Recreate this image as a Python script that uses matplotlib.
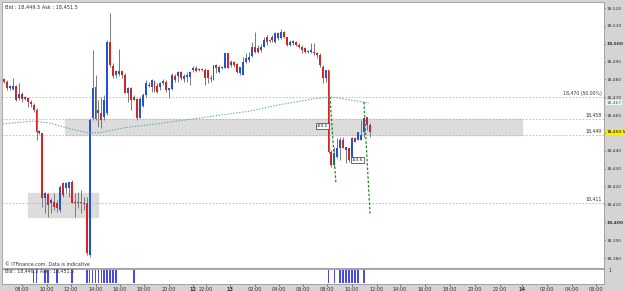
import matplotlib.pyplot as plt
from matplotlib.patches import Rectangle
import matplotlib.transforms as mtransforms

# 15-minute candles (bar index is the x position)
opens = [18480, 18478.5, 18475, 18474.5, 18476.5, 18469.5, 18472, 18469, 18469.5, 18467.5,
         18465.5, 18463, 18450, 18450, 18413.5, 18416, 18411, 18411.5, 18411, 18407,
         18422, 18419, 18419, 18422.5, 18411.5, 18411, 18411.5, 18410, 18411, 18381.5,
         18458.5, 18476, 18461, 18461, 18459, 18461, 18501, 18487.5, 18482.5, 18483,
         18484.5, 18482.5, 18472.5, 18475, 18470, 18469, 18458.5, 18465, 18471.5, 18476.5,
         18476, 18479, 18476.5, 18476, 18478, 18478.5, 18474, 18474.5, 18482, 18482,
         18484, 18480, 18481.5, 18481.5, 18485.5, 18486.5, 18485.5, 18486, 18485.5, 18485.5,
         18480, 18479.5, 18488, 18484, 18486.5, 18486.5, 18495, 18488, 18490, 18488.5,
         18483.5, 18482.5, 18490, 18491, 18493, 18498, 18497.5, 18496.5, 18498, 18504,
         18501.5, 18504, 18501, 18503, 18503, 18506.5, 18504, 18499.5, 18500.5, 18501,
         18499.5, 18498, 18497.5, 18495.5, 18495.5, 18495.5, 18495, 18493.5, 18487, 18481,
         18485.5, 18439.5, 18432, 18436.5, 18441.5, 18446, 18440.5, 18441.5, 18436.5, 18447,
         18446, 18446, 18450.5, 18459, 18454.5]
highs = [18481, 18479.5, 18477, 18481, 18477, 18478, 18473, 18470.5, 18470, 18468.5,
         18467, 18464, 18451.5, 18450, 18417, 18416.5, 18413.5, 18416.5, 18412.5, 18421,
         18422.5, 18422.5, 18422.5, 18423.5, 18416.5, 18417, 18418, 18414, 18414, 18458.5,
         18496.5, 18482.5, 18468.5, 18470, 18471.5, 18502, 18517, 18489, 18485.5, 18497,
         18485.5, 18483.5, 18476, 18476, 18471.5, 18469.5, 18470, 18472.5, 18479.5, 18478.5,
         18480, 18479.5, 18478, 18478.5, 18480, 18479.5, 18475, 18483.5, 18483, 18484.5,
         18484.5, 18483, 18484, 18484.5, 18487.5, 18487.5, 18486.5, 18486.5, 18486.5, 18485.5,
         18482.5, 18488, 18488.5, 18488, 18487.5, 18495, 18495, 18491, 18490.5, 18489,
         18487, 18492.5, 18495, 18495.5, 18501, 18506.5, 18499.5, 18500, 18504, 18505,
         18502.5, 18505, 18506.5, 18506.5, 18508, 18507, 18504, 18502, 18502, 18501.5,
         18500.5, 18499.5, 18498, 18496.5, 18500.5, 18500.5, 18495.5, 18495, 18488, 18485.5,
         18485.5, 18440.5, 18442, 18447, 18448, 18448, 18442, 18441.5, 18448, 18448,
         18450.5, 18457.5, 18458.5, 18459, 18455.5]
lows = [18478, 18474, 18474, 18474, 18468, 18468.5, 18467.5, 18468.5, 18464.5, 18464.5,
        18462, 18446, 18449.5, 18408.5, 18405, 18403, 18405, 18407, 18405.5, 18405.5,
        18414, 18416.5, 18414, 18411, 18403, 18408, 18405, 18407, 18381.5, 18380.5,
        18457.5, 18457.5, 18453.5, 18453, 18457.5, 18460, 18487, 18481, 18481, 18482,
        18481, 18472.5, 18467.5, 18463, 18468.5, 18457.5, 18458.5, 18464.5, 18470, 18476,
        18473, 18473, 18472.5, 18474, 18477, 18473, 18469.5, 18474, 18478.5, 18478.5,
        18479.5, 18478.5, 18478.5, 18477, 18484, 18484, 18484.5, 18484.5, 18477, 18478,
        18478.5, 18479.5, 18483.5, 18483.5, 18486, 18486.5, 18486.5, 18487, 18487, 18483.5,
        18482.5, 18482.5, 18489, 18490, 18492.5, 18495, 18495, 18495.5, 18498, 18499.5,
        18501, 18501, 18500.5, 18502, 18502.5, 18503, 18498.5, 18498.5, 18499.5, 18498.5,
        18497.5, 18495, 18495, 18495, 18495, 18493.5, 18492, 18487, 18478, 18478.5,
        18439, 18431, 18431, 18436, 18435, 18441.5, 18433, 18434, 18436, 18445,
        18446, 18446, 18448, 18451.5, 18448]
closes = [18478.5, 18475, 18476.5, 18476.5, 18468.5, 18472, 18469, 18470, 18467.5, 18466,
          18463, 18450.5, 18451, 18413.5, 18416.5, 18409.5, 18412.5, 18408.5, 18408, 18420,
          18415.5, 18422, 18422.5, 18411, 18411, 18411.5, 18411, 18411, 18383, 18457.5,
          18475, 18458, 18463, 18457.5, 18468.5, 18501, 18488, 18482, 18484.5, 18484.5,
          18482.5, 18472.5, 18475, 18468.5, 18468.5, 18458.5, 18469, 18471.5, 18478, 18477,
          18479.5, 18474, 18473, 18478, 18479, 18474, 18475, 18482.5, 18479.5, 18484,
          18481, 18482, 18482.5, 18484, 18486.5, 18484.5, 18486, 18485.5, 18481, 18481,
          18481, 18488, 18486.5, 18487, 18487, 18495, 18486.5, 18490, 18488, 18484,
          18487, 18490, 18492, 18492.5, 18498, 18495.5, 18495.5, 18498, 18502, 18501,
          18502, 18502, 18506, 18506, 18506.5, 18504, 18499.5, 18501, 18501.5, 18499.5,
          18498, 18496.5, 18495.5, 18496, 18496.5, 18495, 18493.5, 18488, 18481, 18485.5,
          18439.5, 18432, 18439, 18441.5, 18446, 18441.5, 18442, 18435, 18447, 18445,
          18450.5, 18449, 18458.5, 18454.5, 18450.5]

# activity marks in the lower panel (bar index)
vol_idx = [10, 11, 14, 15, 18, 23, 28, 29, 30, 31, 32, 33, 34, 35, 36, 37, 38, 44,
           110, 112, 114, 115, 116, 117, 118, 119, 120, 122]

# moving average style curve (bar index, price)
ma_x = [-1.4, 9.8, 15.6, 21.4, 28.5, 32.5, 41, 53.9, 68.8, 83.4, 92.9, 104.4, 110.5, 115.6, 123.7]
ma_y = [18455, 18456.7, 18455.6, 18452.8, 18450, 18450.2, 18453, 18455.6, 18459, 18462.3,
        18465.7, 18469, 18470.3, 18469, 18466.8]

# horizontal levels and labels
levels = [18470, 18458, 18449, 18411]
level_labels = ["18,470 (50.00%)", "18,458", "18,449", "18,411"]

yticks = list(range(18380, 18521, 10))
xtick_pos = [6.1, 14.6, 22.7, 31.2, 39.3, 47.5, 55.9, 64.1, 68.5, 76.6, 85.1, 93.2, 101.4,
             109.5, 118, 126.4, 134.2, 142.7, 151.2, 159.7, 168.1, 175.6, 184.1, 192.5, 200.7]
xtick_labels = ["08:00", "10:00", "12:00", "14:00", "16:00", "18:00", "20:00", "12", "22:00",
                "13", "02:00", "04:00", "06:00", "08:00", "10:00", "12:00", "14:00", "16:00",
                "18:00", "20:00", "22:00", "14", "02:00", "04:00", "06:00"]

UP = "#2352d6"
DOWN = "#d42424"
WICK = "#7a7a7a"

fig = plt.figure(figsize=(6.25, 2.91), dpi=100, facecolor="#d4d4d4")
ax = fig.add_axes([2 / 625, 23 / 291, 602 / 625, 266 / 291])
axv = fig.add_axes([2 / 625, 7.5 / 291, 602 / 625, 15 / 291], sharex=ax)

xmin, xmax = -0.7, 203.4
ax.set_xlim(xmin, xmax)
ax.set_ylim(18374.4, 18523.4)

# zones
ax.add_patch(Rectangle((20.7, 18449), 175.6 - 20.7, 18458 - 18449, color="#dcdcdc", zorder=0))
ax.add_patch(Rectangle((8.1, 18403), 31.9 - 8.1, 18416.5 - 18403, color="#dcdcdc", zorder=0))

for lv, lab in zip(levels, level_labels):
    ax.axhline(lv, color="#b5b5b5", lw=0.6, ls=(0, (2, 2)), zorder=1)
    ax.text(xmax - 0.8, lv + 0.6, lab, fontsize=3.3, ha="right", va="bottom", color="#333333")

# candles
for i, (o, h, l, c) in enumerate(zip(opens, highs, lows, closes)):
    col = UP if c >= o else DOWN
    ax.vlines(i, l, h, color=WICK, lw=0.7, zorder=2)
    ax.add_patch(Rectangle((i - 0.33, min(o, c)), 0.66, max(abs(c - o), 0.4),
                           facecolor=col, edgecolor="none", zorder=3))

ax.plot(ma_x, ma_y, color="#5aa8a8", lw=0.7, ls=(0, (1.5, 1.5)), zorder=4)
ax.plot([110.5, 112.5], [18470.3, 18422], color="#1f8a1f", lw=0.9, ls=(0, (2, 1.5)), zorder=5)
ax.plot([122, 124.1], [18467.4, 18404], color="#1f8a1f", lw=0.9, ls=(0, (2, 1.5)), zorder=5)

box = dict(boxstyle="square,pad=0.2", fc="white", ec="#333333", lw=0.5)
ax.text(107.8, 18454, "-63.1", fontsize=3.2, ha="center", va="center", bbox=box, zorder=6)
ax.text(119.8, 18435, "-53.5", fontsize=3.2, ha="center", va="center", bbox=box, zorder=6)

ax.text(0.3, 18520.5, "Bid : 18,449.5 Ask : 18,451.5", fontsize=3.6, ha="left", va="center",
        color="#333333")
ax.text(0.3, 18376.5, "\u00a9 ITFinance.com. Data is indicative", fontsize=3.4, ha="left",
        va="center", color="#333333")

# right price scale (18,450 sits under the yellow bid marker)
ax.yaxis.tick_right()
ax.set_yticks(yticks)
ax.set_yticklabels(["" if v == 18450 else f"{v:,}" for v in yticks], fontsize=3.2)
for t, v in zip(ax.get_yticklabels(), yticks):
    if v % 100 == 0:
        t.set_fontweight("bold")
ax.tick_params(axis="y", length=1, width=0.5, pad=1, colors="#333333")
ax.tick_params(axis="x", bottom=False, labelbottom=False)

trans = mtransforms.blended_transform_factory(ax.transAxes, ax.transData)
ax.text(1.0035, 18450.5, "18,450.5", transform=trans, fontsize=3.2, ha="left", va="center",
        bbox=dict(boxstyle="square,pad=0.1", fc="#ffee00", ec="none"), zorder=7)
ax.text(1.0035, 18467, "18,467", transform=trans, fontsize=3.2, ha="left", va="center",
        color="#2a6f6f", bbox=dict(boxstyle="square,pad=0.1", fc="#eef6f6", ec="none"), zorder=7)

for sp in ax.spines.values():
    sp.set_color("#9a9a9a")
    sp.set_linewidth(0.6)

# lower activity panel
axv.bar(vol_idx, [1] * len(vol_idx), width=0.6, bottom=0.05, color="#4a4ae6")
axv.set_ylim(0, 1.2)
axv.set_yticks([])
axv.text(0.3, 1.0, "Bid : 18,449.5 Ask : 18,451.5", fontsize=3.4, ha="left", va="center",
         color="#333333")
axv.text(1.008, 0.85, "1", transform=axv.transAxes, fontsize=3.4, va="center", color="#333333")
axv.set_xticks(xtick_pos)
axv.set_xticklabels(xtick_labels, fontsize=3.6)
for t, lab in zip(axv.get_xticklabels(), xtick_labels):
    if ":" not in lab:
        t.set_fontweight("bold")
axv.tick_params(axis="x", length=1.5, width=0.5, pad=1, colors="#333333")
for sp in axv.spines.values():
    sp.set_color("#9a9a9a")
    sp.set_linewidth(0.6)

fig.savefig("out.png", dpi=100, facecolor=fig.get_facecolor())
